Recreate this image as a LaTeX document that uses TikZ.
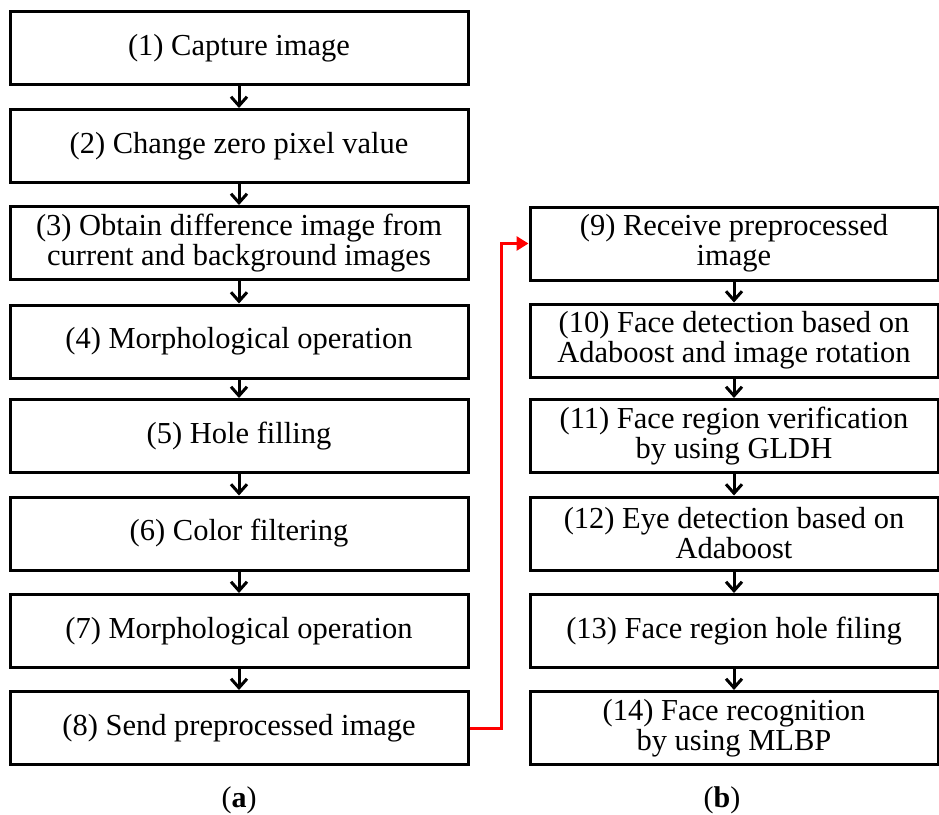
\documentclass[tikz,border=0pt]{standalone}
\usepackage{fontspec}
\setmainfont{Liberation Serif}
\usetikzlibrary{arrows.meta}
\begin{document}
\begin{tikzpicture}[x=1pt,y=-1pt,
  stepbox/.style={draw=black, line width=3pt, align=center, inner sep=0pt,
    font=\fontsize{30.5}{30}\selectfont},
  lbox/.style={stepbox, minimum width=458pt, minimum height=73pt},
  rbox/.style={stepbox, minimum width=408pt, minimum height=73pt},
  flow/.style={line width=3pt, -{Straight Barb[length=9pt,width=16pt,line width=3pt]}},
  redflow/.style={draw=red, line width=3pt, -{Triangle[length=12pt,width=14pt]}},
  sublabel/.style={font=\fontsize{30}{30}\selectfont}]
\useasboundingbox (0,0) rectangle (939,814);
\node[lbox] (n1) at (239,48) {(1) Capture image};
\node[lbox] (n2) at (239,146) {(2) Change zero pixel value};
\node[lbox] (n3) at (239,243) {(3) Obtain difference image from\\current and background images};
\node[lbox] (n4) at (239,341.5) {(4) Morphological operation};
\node[lbox] (n5) at (239,436) {(5) Hole filling};
\node[lbox] (n6) at (239,533.5) {(6) Color filtering};
\node[lbox] (n7) at (239,631) {(7) Morphological operation};
\node[lbox] (n8) at (239,728) {(8) Send preprocessed image};
\node[rbox] (n9) at (734,243.5) {(9) Receive preprocessed\\image};
\node[rbox] (n10) at (734,340.5) {(10) Face detection based on\\Adaboost and image rotation};
\node[rbox] (n11) at (734,436) {(11) Face region verification\\by using GLDH};
\node[rbox] (n12) at (734,533.5) {(12) Eye detection based on\\Adaboost};
\node[rbox] (n13) at (734,631) {(13) Face region hole filing};
\node[rbox] (n14) at (734,728) {(14) Face recognition\\by using MLBP};
\foreach \a/\b in {n1/n2,n2/n3,n3/n4,n4/n5,n5/n6,n6/n7,n7/n8,n9/n10,n10/n11,n11/n12,n12/n13,n13/n14}
  \draw[flow] (\a.south) -- (\b.north);
\draw[redflow] (n8.east) -- ++(32,0) |- (n9.west);
\node[sublabel] (la) at (239,800) {(\textbf{a})};
\node[sublabel] (lb) at (722,800) {(\textbf{b})};
\end{tikzpicture}
\end{document}
